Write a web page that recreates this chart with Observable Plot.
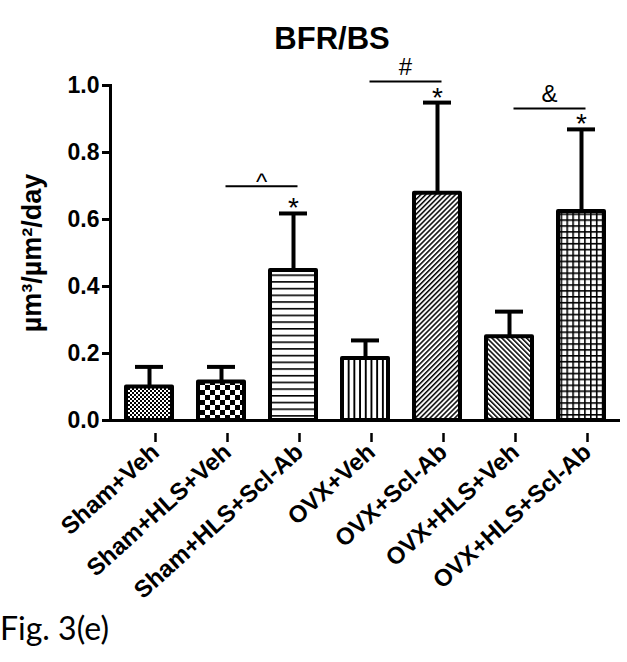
<!DOCTYPE html>
<html>
<head>
<meta charset="utf-8">
<script src="https://cdn.jsdelivr.net/npm/d3@7"></script>
<script src="https://cdn.jsdelivr.net/npm/@observablehq/plot@0.6"></script>
<style>
  html, body { margin: 0; padding: 0; background: #fff; }
  body { width: 627px; height: 662px; overflow: hidden; position: relative; font-family: Arial, "Liberation Sans", sans-serif; }
  #title { position: relative; height: 60px; }
  #title span { position: absolute; left: 332px; top: 24px; transform: translateX(-50%); font-family: Arial, "Liberation Sans", sans-serif; font-weight: bold; font-size: 31px; line-height: 30px; white-space: nowrap; }
  #chart svg { display: block; }
  #caption { position: absolute; left: 0; top: 611px; font-family: Lato, "Open Sans", sans-serif; font-size: 32px; line-height: 33px; white-space: nowrap; }
</style>
</head>
<body>
<div id="title"><span>BFR/BS</span></div>
<div id="chart"></div>
<div id="caption">Fig. 3(e)</div>
<script>
// ---- data ----
const groups = ["Sham+Veh", "Sham+HLS+Veh", "Sham+HLS+Scl-Ab", "OVX+Veh", "OVX+Scl-Ab", "OVX+HLS+Veh", "OVX+HLS+Scl-Ab"];
const means = [0.10, 0.115, 0.448, 0.185, 0.678, 0.25, 0.624];
const upper = [0.16, 0.16, 0.618, 0.239, 0.949, 0.325, 0.869];
const stars = ["", "", "*", "", "*", "", "*"];
const patterns = ["fineCheck", "check", "hLines", "vLines", "diagUp", "diagDown", "grid"];
const yTicks = [0, 0.2, 0.4, 0.6, 0.8, 1.0];
const bracketFrom = ["Sham+HLS+Veh", "OVX+Veh", "OVX+HLS+Veh"];
const bracketTo = ["Sham+HLS+Scl-Ab", "OVX+Scl-Ab", "OVX+HLS+Scl-Ab"];
const bracketLevel = [0.699, 1.012, 0.931];
const bracketSymbol = ["^", "#", "&"];
const yLabel = "µm³/µm²/day";

const bars = groups.map((g, i) => ({group: g, mean: means[i], upper: upper[i], star: stars[i], fill: `url(#${patterns[i]})`}));
const brackets = bracketFrom.map((f, i) => ({from: f, to: bracketTo[i], level: bracketLevel[i], symbol: bracketSymbol[i]}));

// pattern definitions (black on white hatchings)
function patternDefs() {
  const defs = d3.create("svg:defs");
  function pat(id, w, h, draw, transform) {
    const p = defs.append("pattern").attr("id", id).attr("patternUnits", "userSpaceOnUse")
      .attr("width", w).attr("height", h);
    if (transform) p.attr("patternTransform", transform);
    p.append("rect").attr("width", w).attr("height", h).attr("fill", "white");
    draw(p);
  }
  const r = (p, x, y, w, h) => p.append("rect").attr("x", x).attr("y", y).attr("width", w).attr("height", h).attr("fill", "black");
  pat("fineCheck", 4, 4, p => { r(p, 0, 0, 2, 2); r(p, 2, 2, 2, 2); });
  pat("check", 10, 10, p => { r(p, 0, 0, 5, 5); r(p, 5, 5, 5, 5); });
  pat("hLines", 10, 6.7, p => { r(p, 0, 0, 10, 1.6); });
  pat("vLines", 5.7, 10, p => { r(p, 0, 0, 1.9, 10); });
  pat("diagUp", 3.5, 10, p => { r(p, 0, 0, 1.5, 10); }, "rotate(45)");
  pat("diagDown", 3.5, 10, p => { r(p, 0, 0, 1.5, 10); }, "rotate(-45)");
  pat("grid", 5.9, 5.9, p => { r(p, 0, 0, 5.9, 1.6); r(p, 0, 0, 1.6, 5.9); });
  return defs.node();
}

const FONT = "Arial, 'Liberation Sans', sans-serif";

const chart = Plot.plot({
  width: 627,
  height: 540,
  marginTop: 25,
  marginBottom: 180,
  marginLeft: 110,
  marginRight: 7,
  style: {fontFamily: FONT, color: "black", background: "white", overflow: "visible"},
  x: {domain: groups, paddingInner: 0.36, paddingOuter: 0.22, label: null},
  y: {domain: [0, 1], label: null},
  color: {type: "identity"},
  marks: [
    patternDefs,
    Plot.barY(bars, {x: "group", y: "mean", fill: "fill", stroke: "black", strokeWidth: 4, strokeLinejoin: "round"}),
    Plot.ruleX(bars, {x: "group", y1: "mean", y2: "upper", stroke: "black", strokeWidth: 4}),
    Plot.tickY(bars, {x: "group", y: "upper", stroke: "black", strokeWidth: 4, insetLeft: 9, insetRight: 9}),
    Plot.text(bars.filter(d => d.star), {x: "group", y: "upper", text: "star", fontSize: 28, dy: -5, fontFamily: FONT}),
    Plot.link(brackets, {x1: "from", x2: "to", y1: "level", y2: "level", stroke: "black", strokeWidth: 2, dx: 4}),
    Plot.text(brackets.filter(d => d.symbol === "^"), {x: "from", y: "level", text: "symbol", fontSize: 24, dx: 40, dy: -4, fontFamily: FONT}),
    Plot.text(brackets.filter(d => d.symbol !== "^"), {x: "from", y: "level", text: "symbol", fontSize: 24, dx: 40, dy: -14, fontFamily: FONT}),
    Plot.ruleY([0], {stroke: "black", strokeWidth: 3}),
    Plot.frame({anchor: "left", stroke: "black", strokeWidth: 3}),
    Plot.axisY({ticks: yTicks, tickFormat: d3.format(".1f"), tickSize: 8, strokeWidth: 3, tickPadding: 3, fontSize: 23, fontWeight: "bold", fontFamily: FONT, label: null}),
    Plot.axisX({tickSize: 9, strokeWidth: 2.5, tickRotate: -42, tickPadding: 6, fontSize: 24, fontWeight: "bold", fontFamily: FONT, dx: 6, dy: 13, label: null}),
    Plot.text([yLabel], {frameAnchor: "left", text: d => d, rotate: -90, textAnchor: "middle", dx: -78, fontSize: 27, fontWeight: "bold", fontFamily: FONT})
  ]
});
document.getElementById("chart").appendChild(chart);
</script>
</body>
</html>
